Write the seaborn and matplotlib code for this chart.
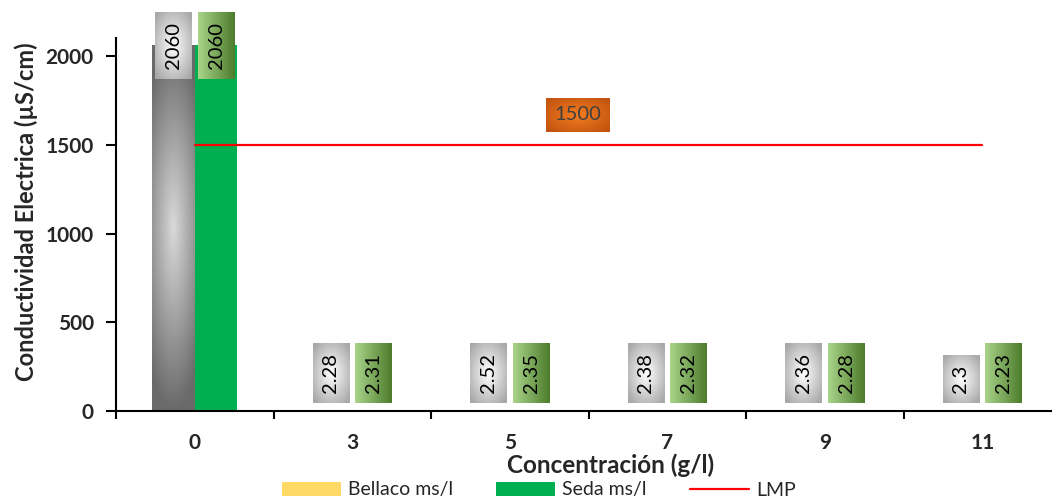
import numpy as np
import pandas as pd
import matplotlib
matplotlib.use("Agg")
import matplotlib.pyplot as plt
from matplotlib.patches import Patch
from matplotlib.lines import Line2D
from matplotlib.colors import LinearSegmentedColormap
import seaborn as sns

# ---- data ----
concentracion = ["0", "3", "5", "7", "9", "11"]
bellaco = [2060, 2.28, 2.52, 2.38, 2.36, 2.3]
seda = [2060, 2.31, 2.35, 2.32, 2.28, 2.23]
lmp = [1500, 1500, 1500, 1500, 1500, 1500]
lmp_label = "1500"
series_names = ["Bellaco ms/l", "Seda ms/l"]

sns.set_style("white")
plt.rcParams["font.family"] = ["Lato", "DejaVu Sans"]

df = pd.DataFrame({
    "conc": concentracion * 2,
    "valor": bellaco + seda,
    "serie": [series_names[0]] * len(concentracion) + [series_names[1]] * len(concentracion),
})

fig = plt.figure(figsize=(10.52, 5.0), dpi=100)
ax = fig.add_axes([116 / 1052, (500 - 411) / 500, (1061 - 116) / 1052, (411 - 38.25) / 500])

sns.barplot(data=df, x="conc", y="valor", hue="serie", order=concentracion,
            hue_order=series_names, palette=["#808080", "#00b050"],
            width=0.54, gap=0, saturation=1, linewidth=0, ax=ax, legend=False, zorder=2)

xs = np.arange(len(concentracion))
ax.plot(xs, lmp, color="#ff0000", lw=1.6, zorder=3)

ax.set_xlim(-0.5, len(concentracion) - 0.5)
ax.set_ylim(0, 2100)
ax.set_yticks([0, 500, 1000, 1500, 2000])
ax.set_xticks(xs)
ax.set_xticklabels(concentracion)
ax.set_xticks(np.arange(-0.5, len(concentracion), 1), minor=True)
ax.tick_params(axis="x", which="major", length=0, pad=16, labelsize=15)
ax.tick_params(axis="x", which="minor", length=6, width=1.5, direction="out", color="black", bottom=True)
ax.tick_params(axis="y", length=7, width=1.5, direction="out", color="black", left=True, labelsize=15, pad=9)
for lab in ax.get_xticklabels() + ax.get_yticklabels():
    lab.set_fontweight("bold")
for s in ["top", "right"]:
    ax.spines[s].set_visible(False)
for s in ["left", "bottom"]:
    ax.spines[s].set_color("black")
    ax.spines[s].set_linewidth(1.5)

ax.set_ylabel("Conductividad Electrica (µS/cm)", fontsize=17, fontweight="bold")
ax.set_xlabel("Concentración (g/l)", fontsize=17.5, fontweight="bold")
ax.xaxis.set_label_coords((611 - 116) / (1061 - 116), -0.114)
ax.yaxis.set_label_coords((38 - 116) / (1061 - 116), 0.534)

# radial grey gradient on the Bellaco bars
bars = [p for p in ax.patches]
n = len(concentracion)
grey_cmap = LinearSegmentedColormap.from_list("g", ["#dadada", "#6a6a6a"])
for p in bars[:n]:
    x0, y0 = p.get_x(), p.get_y()
    w, h = p.get_width(), p.get_height()
    if h <= 0:
        continue
    yy, xx = np.mgrid[-1:1:200j, -1:1:60j]
    r = np.sqrt((xx * 0.6) ** 2 + yy ** 2)
    im = ax.imshow(np.clip(r, 0, 1), cmap=grey_cmap, vmin=0, vmax=1, extent=[x0, x0 + w, y0, y0 + h],
                   aspect="auto", zorder=2.5, interpolation="bilinear")
    im.set_clip_path(p)

# value labels
texts = []
off = 0.135
for i in range(n):
    for k, (vals, kind) in enumerate([(bellaco, "b"), (seda, "s")]):
        v = vals[i]
        x = i + (-off if k == 0 else off)
        if v > 1000:
            t = ax.annotate(f"{v:g}", xy=(x, v), ha="center", va="center", rotation=90,
                            fontsize=14.5, color="black", annotation_clip=False, zorder=6,
                            bbox=dict(boxstyle="square,pad=0.48", fc="none", ec="none"))
        else:
            t = ax.annotate(f"{v:g}", xy=(x, v), xytext=(0, 12.5), textcoords="offset points",
                            ha="center", va="bottom", rotation=90, fontsize=14.5, color="black",
                            annotation_clip=False, zorder=6,
                            bbox=dict(boxstyle="square,pad=0.48", fc="none", ec="none"))
        texts.append((t, kind))

t15 = ax.annotate(lmp_label, xy=(2.43, 1668), ha="center", va="center", fontsize=14.5, color="#404040",
                  zorder=6, bbox=dict(boxstyle="square,pad=0.42", fc="none", ec="none"))
texts.append((t15, "o"))

handles = [Patch(facecolor="#ffd966", edgecolor="none"),
           Patch(facecolor="#00b050", edgecolor="none"),
           Line2D([0], [0], color="#ff0000", lw=1.6)]
leg = fig.legend(handles, ["Bellaco ms/l", "Seda ms/l", "LMP"], loc="center", ncol=3,
                 bbox_to_anchor=(539 / 1052, 10 / 500), frameon=False, fontsize=14,
                 handlelength=3.04, handleheight=0.7, handletextpad=0.36, columnspacing=2.2,
                 borderpad=0, borderaxespad=0)

# gradient fills behind the label boxes
fig.canvas.draw()
inv = ax.transData.inverted()
white_grey = LinearSegmentedColormap.from_list("wg", ["#ffffff", "#a8a8a8"])
green_lin = LinearSegmentedColormap.from_list("gl", ["#a9d48a", "#4d7c2c"])
orange_rad = LinearSegmentedColormap.from_list("or", ["#f47c20", "#c2540f"])
for t, kind in texts:
    bb = t.get_bbox_patch().get_window_extent()
    (dx0, dy0), (dx1, dy1) = inv.transform([[bb.x0, bb.y0], [bb.x1, bb.y1]])
    yy, xx = np.mgrid[-1:1:100j, -1:1:100j]
    if kind == "b":
        arr, cm = np.clip(np.sqrt(xx ** 2 + yy ** 2) / 1.3, 0, 1), white_grey
    elif kind == "s":
        arr, cm = (xx + 1) / 2, green_lin
    else:
        arr, cm = np.clip(np.sqrt(xx ** 2 + yy ** 2) / 1.3, 0, 1), orange_rad
    im = ax.imshow(arr, cmap=cm, vmin=0, vmax=1, extent=[dx0, dx1, dy0, dy1],
                   aspect="auto", zorder=5, interpolation="bilinear")
    im.set_clip_on(False)

ax.set_xlim(-0.5, len(concentracion) - 0.5)
ax.set_ylim(0, 2100)

fig.savefig("out.png", dpi=100)
